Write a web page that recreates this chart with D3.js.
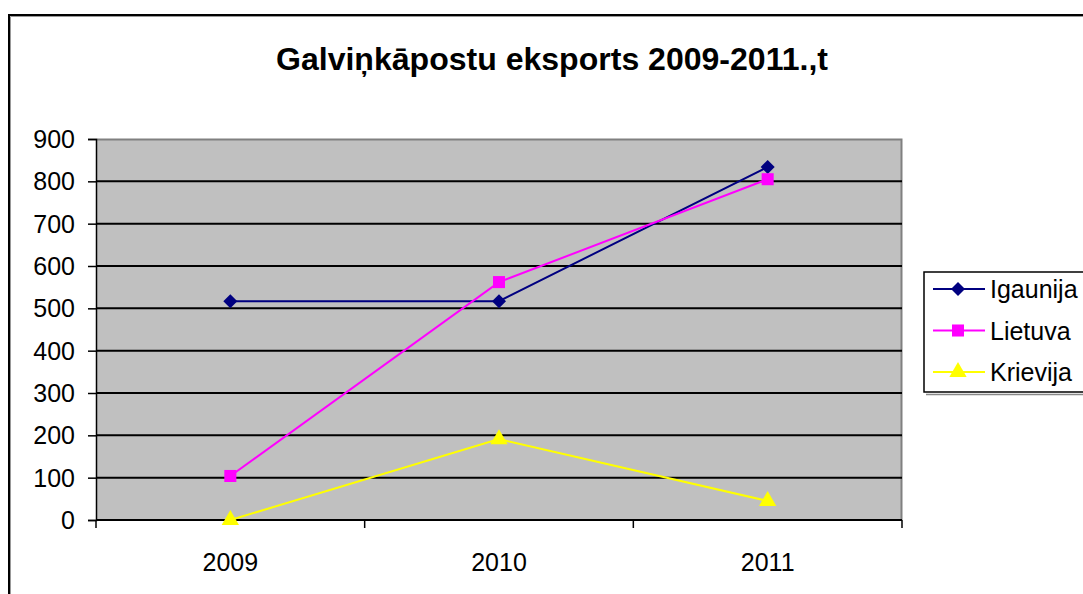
<!DOCTYPE html>
<html>
<head>
<meta charset="utf-8">
<script src="https://cdn.jsdelivr.net/npm/d3@7"></script>
<style>
    body { margin: 0; background: #fff; }
    svg { display: block; font-family: "Liberation Sans", Arial, sans-serif; }
</style>
</head>
<body>
<div id="chart"></div>
<script>
// data
const years = ["2009", "2010", "2011"];
const igaunija = [517, 517, 834];
const lietuva = [104, 562, 805];
const krievija = [0, 191, 45];
const yTicks = [0, 100, 200, 300, 400, 500, 600, 700, 800, 900];

const series = [
    { name: "Igaunija", values: igaunija, color: "#000080", marker: "diamond" },
    { name: "Lietuva", values: lietuva, color: "#ff00ff", marker: "square" },
    { name: "Krievija", values: krievija, color: "#ffff00", marker: "triangle" }
];

const W = 1083, H = 594;
const margin = { top: 139, right: 181, bottom: 74, left: 96 };
const width = W - margin.left - margin.right,
    height = H - margin.top - margin.bottom;

const svg = d3.select("#chart").append("svg")
    .attr("width", W)
    .attr("height", H);

// outer chart frame (runs off the right and bottom edge)
svg.append("rect")
    .attr("x", 9).attr("y", 15)
    .attr("width", W + 20).attr("height", H + 20)
    .attr("fill", "none").attr("stroke", "#000").attr("stroke-width", 2);
svg.append("path")
    .attr("d", `M10.5,${H + 5}V16.5H${W + 5}`)
    .attr("fill", "none").attr("stroke", "#999").attr("stroke-width", 1);

svg.append("text")
    .attr("x", 276).attr("y", 70)
    .attr("textLength", 552)
    .attr("lengthAdjust", "spacingAndGlyphs")
    .style("font-size", "32px").style("font-weight", "bold")
    .text("Galviņkāpostu eksports 2009-2011.,t");

const g = svg.append("g")
    .attr("transform", "translate(" + margin.left + "," + margin.top + ")");

const x = d3.scaleBand().domain(years).range([0, width]);
const y = d3.scaleLinear().domain([0, 900]).range([height, 0]);

// plot area
g.append("rect")
    .attr("width", width).attr("height", height)
    .attr("fill", "#c0c0c0");
g.append("path")
    .attr("d", `M0,0.5H${width - 0.5}V${height}`)
    .attr("fill", "none").attr("stroke", "#808080").attr("stroke-width", 2);

// gridlines
g.selectAll(".grid")
    .data(yTicks.filter(d => d > 0 && d < 900))
    .enter().append("line")
    .attr("x1", 0).attr("x2", width)
    .attr("y1", d => y(d)).attr("y2", d => y(d))
    .attr("stroke", "#000").attr("stroke-width", 2);

// y axis
const yAxis = g.append("g")
    .call(d3.axisLeft(y).tickValues(yTicks).tickSize(8).tickPadding(13));
yAxis.select(".domain").attr("stroke", "#000").attr("stroke-width", 1.5);
yAxis.selectAll("line").attr("stroke", "#000").attr("stroke-width", 1.5);
yAxis.selectAll("text")
    .attr("dy", "0.34em")
    .style("font-size", "25px").attr("fill", "#000");
yAxis.attr("font-family", null).attr("font-size", null);

// x axis: ticks sit on the band boundaries
const xAxis = g.append("g")
    .attr("transform", "translate(0," + height + ")");
xAxis.append("line")
    .attr("x1", 0).attr("x2", width)
    .attr("stroke", "#000").attr("stroke-width", 2);
const bounds = years.map(d => x(d)).concat([width]);
xAxis.selectAll(".tick")
    .data(bounds)
    .enter().append("line")
    .attr("x1", d => d).attr("x2", d => d)
    .attr("y1", 0).attr("y2", 8)
    .attr("stroke", "#000").attr("stroke-width", 1.5);
xAxis.selectAll(".lbl")
    .data(years)
    .enter().append("text")
    .attr("x", d => x(d) + x.bandwidth() / 2)
    .attr("y", 51)
    .attr("text-anchor", "middle")
    .style("font-size", "25px")
    .text(d => d);

const symbolOf = {
    diamond: d3.symbol().type(d3.symbolDiamond2).size(125),
    square: d3.symbol().type(d3.symbolSquare).size(145),
    triangle: d3.symbol().type(d3.symbolTriangle).size(130)
};

const line = d3.line()
    .x((d, i) => x(years[i]) + x.bandwidth() / 2)
    .y(d => y(d));

series.forEach(s => {
    g.append("path")
        .datum(s.values)
        .attr("d", line)
        .attr("fill", "none")
        .attr("stroke", s.color)
        .attr("stroke-width", 2);
    g.selectAll(".m-" + s.marker)
        .data(s.values)
        .enter().append("path")
        .attr("transform", (d, i) => "translate(" + (x(years[i]) + x.bandwidth() / 2) + "," + y(d) + ")")
        .attr("d", symbolOf[s.marker])
        .attr("fill", s.color);
});

// legend
const lg = svg.append("g").attr("transform", "translate(924,272)");
lg.append("rect")
    .attr("x", 0).attr("y", 0)
    .attr("width", 200).attr("height", 120)
    .attr("fill", "#fff").attr("stroke", "#000").attr("stroke-width", 1.5);
lg.append("line")
    .attr("x1", 2).attr("x2", 200).attr("y1", 122.5).attr("y2", 122.5)
    .attr("stroke", "#888").attr("stroke-width", 1.5);

const item = lg.selectAll(".item")
    .data(series)
    .enter().append("g")
    .attr("transform", (d, i) => "translate(0," + (17 + i * 41.5) + ")");
item.append("line")
    .attr("x1", 9).attr("x2", 61)
    .attr("stroke", d => d.color).attr("stroke-width", 2);
item.append("path")
    .attr("transform", "translate(34,0)")
    .attr("d", d => symbolOf[d.marker]())
    .attr("fill", d => d.color);
item.append("text")
    .attr("x", 66).attr("y", 9)
    .style("font-size", "25px")
    .text(d => d.name);
</script>
</body>
</html>
